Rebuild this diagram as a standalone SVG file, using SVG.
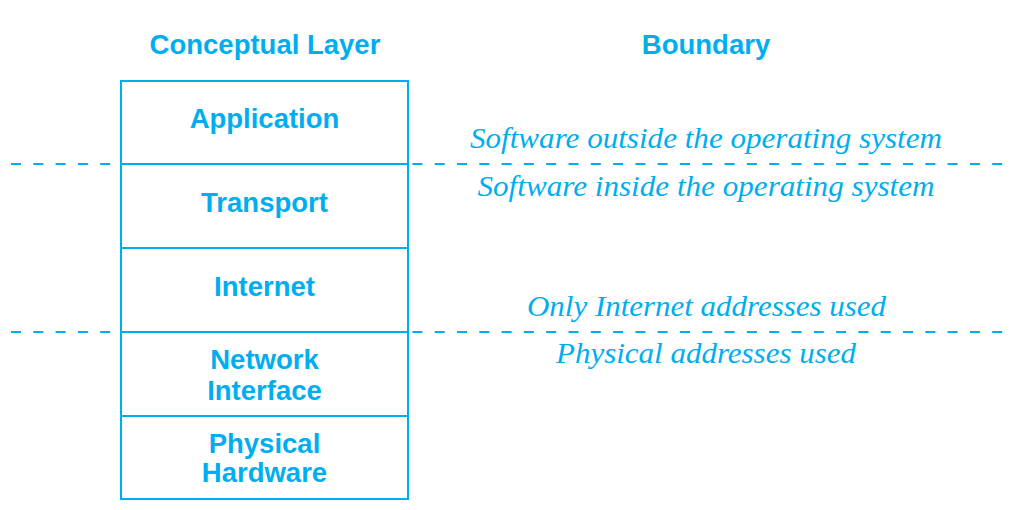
<svg xmlns="http://www.w3.org/2000/svg" width="1016" height="510" viewBox="0 0 1016 510">
<style>
.hdr{font-family:"Liberation Sans",Arial,sans-serif;font-weight:bold;font-size:27.5px;fill:#00AEEF;text-anchor:middle}
.lbl{font-family:"Liberation Sans",Arial,sans-serif;font-weight:bold;font-size:27.5px;fill:#00AEEF;text-anchor:middle}
.bnd{font-family:"Liberation Serif","Times New Roman",serif;font-style:italic;font-size:30px;fill:#00AEEF;text-anchor:middle}
.box{fill:#fff;stroke:#00AEEF;stroke-width:2}
.dash{stroke:#00AEEF;stroke-width:2;stroke-dasharray:10 12.3;fill:none}
</style>
<rect width="1016" height="510" fill="#fff"/>
<g id="connectors">
<line class="dash" x1="11" y1="164" x2="1005" y2="164"/>
<line class="dash" x1="11" y1="332" x2="1005" y2="332"/>
</g>
<g id="headers">
<text class="hdr" x="265" y="54">Conceptual Layer</text>
<text class="hdr" x="706" y="54">Boundary</text>
</g>
<g id="application">
<rect class="box" x="121" y="81" width="287" height="83"/>
<text class="lbl" x="264.5" y="128">Application</text>
</g>
<g id="transport">
<rect class="box" x="121" y="164" width="287" height="84"/>
<text class="lbl" x="264.5" y="212">Transport</text>
</g>
<g id="internet">
<rect class="box" x="121" y="248" width="287" height="84"/>
<text class="lbl" x="264.5" y="296">Internet</text>
</g>
<g id="network-interface">
<rect class="box" x="121" y="332" width="287" height="84"/>
<text class="lbl" x="264.5" y="369">Network</text>
<text class="lbl" x="264.5" y="400">Interface</text>
</g>
<g id="physical-hardware">
<rect class="box" x="121" y="416" width="287" height="83"/>
<text class="lbl" x="264.5" y="453">Physical</text>
<text class="lbl" x="264.5" y="482">Hardware</text>
</g>
<g id="boundary-labels">
<text class="bnd" x="706" y="148" textLength="472" lengthAdjust="spacingAndGlyphs">Software outside the operating system</text>
<text class="bnd" x="706" y="196" textLength="457" lengthAdjust="spacingAndGlyphs">Software inside the operating system</text>
<text class="bnd" x="706.5" y="315.5" textLength="359" lengthAdjust="spacingAndGlyphs">Only Internet addresses used</text>
<text class="bnd" x="706" y="363" textLength="300" lengthAdjust="spacingAndGlyphs">Physical addresses used</text>
</g>
</svg>
